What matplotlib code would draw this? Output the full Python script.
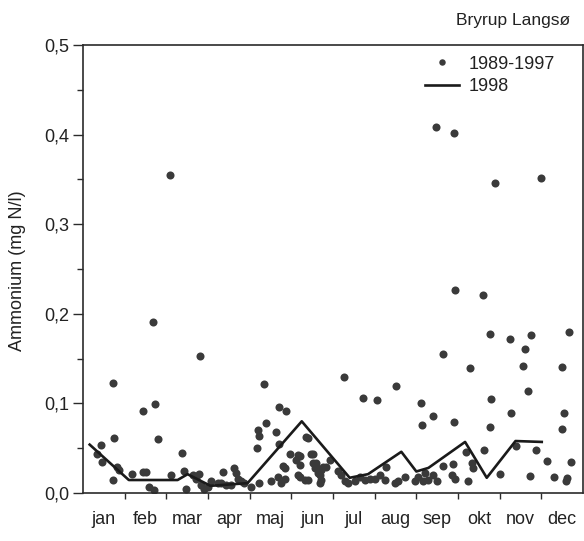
import matplotlib
matplotlib.use("Agg")
import matplotlib.pyplot as plt
from matplotlib.ticker import FixedLocator, NullFormatter

plt.rcParams['font.family'] = ['Liberation Sans', 'DejaVu Sans']

title = "Bryrup Langsø"
ylabel = "Ammonium (mg N/l)"
months = ["jan", "feb", "mar", "apr", "maj", "jun", "jul", "aug", "sep", "okt", "nov", "dec"]
yticks = [0.0, 0.1, 0.2, 0.3, 0.4, 0.5]
ytick_labels = ["0,0", "0,1", "0,2", "0,3", "0,4", "0,5"]
label_hist = "1989-1997"
label_1998 = "1998"

# 1989-1997 observations: month position (0-12) and ammonium (mg N/l)
hist_x = [2.09, 8.47, 8.91, 9.88, 11.00, 8.93, 9.60,
          9.78, 10.24, 10.75, 11.66, 8.65, 10.60, 9.28, 10.56, 11.49, 6.27, 7.51, 6.71, 7.05,
          9.80, 10.68, 8.11, 8.40, 10.27, 11.55, 8.13, 8.91, 9.78, 11.50, 9.63, 10.87, 11.14,
          11.72, 10.02, 10.72, 11.30, 11.61, 11.58, 10.38, 9.20, 9.33, 9.37, 9.25, 8.63, 8.89,
          8.85, 8.93, 8.41, 8.49, 8.21, 8.29, 7.97, 8.05, 8.17, 7.73, 7.57, 7.49, 7.13, 7.25,
          7.00, 7.28, 6.64, 6.76, 6.52, 6.88, 6.12, 6.20, 6.28, 6.36, 5.93, 5.76, 5.64, 5.72,
          5.52, 5.60, 5.56, 5.36, 5.40, 5.20, 5.20, 5.32,
          1.69, 2.80, 0.72, 4.35, 1.44, 1.72, 4.70, 4.86, 0.74, 1.81, 0.42, 4.19, 4.23, 4.39,
          4.63, 4.17, 4.70, 2.37, 0.34, 0.46, 0.82, 0.86, 0.72, 1.18, 1.44, 1.50, 1.58, 1.70,
          2.10, 2.43, 2.47, 2.63, 2.71, 2.79, 2.83, 2.91, 2.99, 3.07, 3.23, 3.37, 3.31, 3.43,
          3.55, 3.63, 3.67, 3.71, 3.79, 3.87, 4.03, 4.23, 4.51, 4.67, 4.75, 4.80, 4.84, 4.96,
          5.16, 5.12, 5.20, 5.48, 5.52, 5.60, 5.16, 5.40, 5.68, 5.68, 5.72, 5.84, 4.84]
hist_y = [0.355, 0.409, 0.402, 0.346, 0.352, 0.227, 0.221,
          0.177, 0.172, 0.176, 0.180, 0.155, 0.161, 0.140, 0.142, 0.141, 0.130, 0.119, 0.106, 0.104,
          0.105, 0.114, 0.100, 0.086, 0.089, 0.089, 0.076, 0.079, 0.074, 0.071, 0.048, 0.048, 0.036,
          0.035, 0.021, 0.019, 0.018, 0.017, 0.013, 0.053, 0.046, 0.033, 0.028, 0.013, 0.030, 0.032,
          0.020, 0.016, 0.020, 0.013, 0.022, 0.015, 0.013, 0.018, 0.013, 0.018, 0.013, 0.011, 0.020, 0.015,
          0.016, 0.029, 0.018, 0.015, 0.013, 0.016, 0.024, 0.020, 0.013, 0.011, 0.037, 0.029, 0.022, 0.015,
          0.044, 0.034, 0.028, 0.063, 0.061, 0.041, 0.018, 0.015,
          0.191, 0.153, 0.123, 0.122, 0.092, 0.099, 0.096, 0.091, 0.061, 0.060, 0.054, 0.070, 0.064, 0.078,
          0.068, 0.050, 0.055, 0.045, 0.043, 0.035, 0.029, 0.026, 0.015, 0.021, 0.023, 0.023, 0.007, 0.003,
          0.020, 0.024, 0.005, 0.020, 0.016, 0.021, 0.009, 0.005, 0.007, 0.013, 0.011, 0.023, 0.011, 0.009,
          0.009, 0.028, 0.022, 0.016, 0.013, 0.011, 0.007, 0.011, 0.013, 0.018, 0.011, 0.030, 0.028, 0.044,
          0.042, 0.037, 0.031, 0.044, 0.033, 0.029, 0.020, 0.015, 0.020, 0.011, 0.026, 0.029, 0.016]

# 1998 measurements
y98_x = [0.16, 1.10, 2.27, 2.51, 3.06, 3.95, 5.25, 6.40, 6.84, 7.64, 8.00, 8.29, 9.17, 9.69, 10.38, 11.01]
y98_y = [0.054, 0.0145, 0.0145, 0.021, 0.008, 0.011, 0.080, 0.017, 0.021, 0.046, 0.024, 0.028,
         0.057, 0.017, 0.058, 0.057]

fig = plt.figure(figsize=(5.84, 5.41), dpi=100)
ax = fig.add_axes([83/584, 1-493/541, 500/584, 448/541])

ink = "#2b2b2b"
txt = "#222222"
ax.plot(hist_x, hist_y, linestyle='none', marker='o', markersize=5.8,
        color="#3a3a3a", markeredgewidth=0, label=label_hist, zorder=2)
ax.plot(y98_x, y98_y, color="#1a1a1a", linewidth=1.9, label=label_1998, zorder=3)

ax.set_xlim(0, 12)
ax.set_ylim(0, 0.5)

ax.xaxis.set_major_locator(FixedLocator(list(range(1, 12))))
ax.xaxis.set_major_formatter(NullFormatter())
ax.xaxis.set_minor_locator(FixedLocator([i + 0.5 for i in range(12)]))
ax.set_xticklabels(months, minor=True)
ax.tick_params(axis='x', which='major', direction='out', length=4, width=1.0, color=ink)
ax.tick_params(axis='x', which='minor', length=0, pad=13, labelsize=13, labelcolor=txt)

ax.set_yticks(yticks)
ax.set_yticklabels(ytick_labels)
ax.yaxis.set_minor_locator(FixedLocator([0.05, 0.15, 0.25, 0.35, 0.45]))
ax.tick_params(axis='y', which='major', direction='out', length=7, width=1.0, pad=3,
               labelsize=13, labelcolor=txt, color=ink)
ax.tick_params(axis='y', which='minor', direction='out', length=4, width=1.0, color=ink)

for s in ax.spines.values():
    s.set_linewidth(1.2)
    s.set_color(ink)

leg = ax.legend(loc='upper left', bbox_to_anchor=(0.684, 0.976), frameon=False,
                fontsize=13, handlelength=1.9, handletextpad=0.5, labelspacing=0.3,
                borderpad=0, borderaxespad=0, markerscale=0.8)
for t in leg.get_texts():
    t.set_color(txt)

fig.text(0.977, 0.963, title, ha='right', va='center', fontsize=12.5, color=txt)
fig.text(0.03, 0.5, ylabel, rotation=90, ha='center', va='center', fontsize=13, color=txt)

fig.savefig("out.png", dpi=100, facecolor="white")
